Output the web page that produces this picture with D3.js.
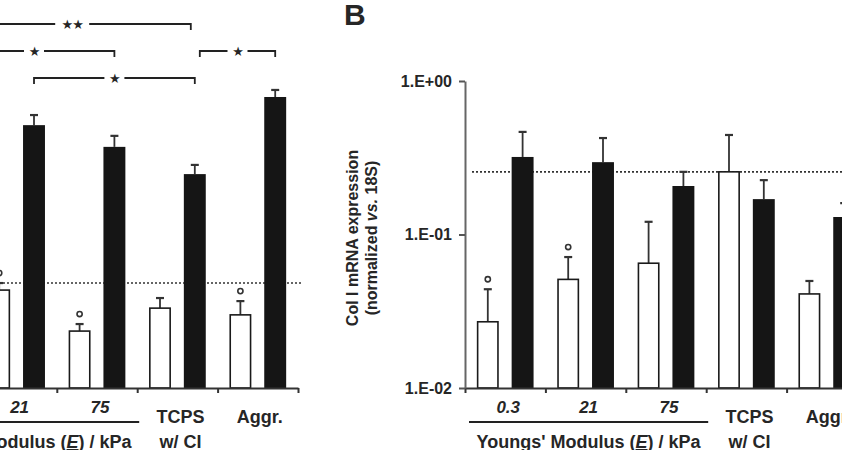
<!DOCTYPE html>
<html>
<head>
<meta charset="utf-8">
<script src="https://cdn.jsdelivr.net/npm/d3@7"></script>
<style>
body { margin: 0; background: #fff; }
svg text { font-family: "Liberation Sans", Arial, sans-serif; font-weight: bold; fill: #262626; }
</style>
</head>
<body>
<svg id="chart" width="842" height="450"></svg>
<script>

// groups along the x axis (first three are the gel stiffness values)
var groups = ["0.3", "21", "75", "TCPS", "Aggr."];
var moduli = ["0.3", "21", "75"];

// panel A - y axis is cropped off the figure, values in relative units
var aWhite    = [null, 0.320, 0.186, 0.261, 0.239];
var aWhiteTop = [null, 0.343, 0.209, 0.294, 0.284];
var aBlack    = [null, 0.859, 0.788, 0.699, 0.951];
var aBlackTop = [null, 0.892, 0.824, 0.729, 0.974];
var aMarks    = [false, true, true, false, true];
var aRef = 0.343;

// significance brackets in panel A (between black bars)
var aBrackets = [
    {from: "0.3", to: "TCPS", level: 0, label: "★★"},
    {from: "0.3", to: "75", level: 1, label: "★"},
    {from: "TCPS", to: "Aggr.", level: 1, label: "★"},
    {from: "21", to: "TCPS", level: 2, label: "★"}
];

// panel B - Col I mRNA expression (normalized vs. 18S), log axis
var bWhite    = [0.027, 0.051, 0.065, 0.256, 0.041];
var bWhiteTop = [0.044, 0.0713, 0.121, 0.445, 0.0498];
var bBlack    = [0.320, 0.296, 0.207, 0.170, 0.130];
var bBlackTop = [0.466, 0.425, 0.256, 0.226, 0.160];
var bMarks    = [true, true, false, false, false];
var bRef = 0.256;
var bTicks = [1, 0.1, 0.01];

var svg = d3.select("#chart");
var baseY = 388, topY = 81;

// Panel A
var yA = d3.scaleLinear().domain([0, 1]).range([baseY, topY + 1]);
var panelA = drawPanel({
    x0: -104, x1: 298, y: yA,
    white: aWhite, whiteTop: aWhiteTop, black: aBlack, blackTop: aBlackTop,
    marks: aMarks, ref: aRef, refEnd: 4
});

// brackets
var levelY = d3.scaleLinear().domain([0, 2]).range([24, 78]);
var bx = function(g) { return panelA.x(g) + panelA.inner("black") + panelA.inner.bandwidth() / 2; };
aBrackets.forEach(function(b, i) {
    var xa = bx(b.from), xb = bx(b.to), yy = levelY(b.level);
    if (b.from == "TCPS") xa += 5;
    if (b.to == "TCPS" && b.level == 0) xb -= 4;
    var mid = (xa + xb) / 2;
    var gap = b.label.length > 1 ? 17 : 10;
    var path = d3.path();
    path.moveTo(xa, yy + 6); path.lineTo(xa, yy); path.lineTo(mid - gap, yy);
    path.moveTo(mid + gap, yy); path.lineTo(xb, yy); path.lineTo(xb, yy + 6);
    svg.append("path").attr("d", path.toString())
        .attr("fill", "none").attr("stroke", "#222").attr("stroke-width", 1.8);
    svg.append("text").attr("x", mid).attr("y", yy + 5)
        .attr("text-anchor", "middle").style("font-size", "13px")
        .style("font-family", "DejaVu Sans").style("letter-spacing", "-1px")
        .text(b.label);
});

// Panel B
var yB = d3.scaleLog().domain([0.01, 1]).range([baseY, topY]);
var panelB = drawPanel({
    x0: 465, x1: 867, y: yB,
    white: bWhite, whiteTop: bWhiteTop, black: bBlack, blackTop: bBlackTop,
    marks: bMarks, ref: bRef, refEnd: 0
});

var fmtE = function(d) {
    var e = Math.round(Math.log10(d));
    return "1.E" + (e < 0 ? "-" : "+") + d3.format("02d")(Math.abs(e));
};
var yAxis = svg.append("g").attr("transform", "translate(465,0)")
    .call(d3.axisLeft(yB).tickValues(bTicks).tickFormat(fmtE).tickSize(6).tickSizeOuter(0).tickPadding(7));
yAxis.select(".domain").attr("stroke", "#666").attr("stroke-width", 2);
yAxis.selectAll(".tick line").attr("stroke", "#555").attr("stroke-width", 2);
yAxis.selectAll(".tick text").style("font-size", "16px").style("font-family", null).attr("fill", "#2a2a2a");

// panel letter + y title
svg.append("text").attr("x", 344).attr("y", 25).style("font-size", "30px").attr("fill", "#111").text("B");

svg.append("text").attr("transform", "translate(358,238) rotate(-90)")
    .attr("text-anchor", "middle").style("font-size", "16px")
    .text("Col I mRNA expression");
var yt = svg.append("text").attr("transform", "translate(377,238) rotate(-90)")
    .attr("text-anchor", "middle").style("font-size", "16px");
yt.append("tspan").text("(normalized ");
yt.append("tspan").style("font-style", "italic").text("vs.");
yt.append("tspan").text(" 18S)");


function drawPanel(c) {

    var x = d3.scaleBand().domain(groups).range([c.x0, c.x1]);
    var inner = d3.scaleBand().domain(["white", "black"]).range([0, x.bandwidth()])
        .paddingInner(0.37).paddingOuter(0.34);
    var y = c.y;
    var y0 = y(y.domain()[0]);

    var rows = [];
    groups.forEach(function(g, i) {
        if (c.white[i] != null) rows.push({g: g, s: "white", v: c.white[i], top: c.whiteTop[i], mark: c.marks[i]});
        if (c.black[i] != null) rows.push({g: g, s: "black", v: c.black[i], top: c.blackTop[i], mark: false});
    });
    var cx = function(d) { return x(d.g) + inner(d.s) + inner.bandwidth() / 2; };

    // reference dotted line (behind bars)
    svg.append("line")
        .attr("x1", c.x0 + 7).attr("x2", c.x1 + c.refEnd)
        .attr("y1", y(c.ref)).attr("y2", y(c.ref))
        .attr("stroke", "#333").attr("stroke-width", 1.6).attr("stroke-dasharray", "2,2");

    // error bars
    var err = svg.append("g").selectAll("g").data(rows).enter().append("g");
    err.append("line")
        .attr("x1", cx).attr("x2", cx)
        .attr("y1", function(d) { return y(d.v); }).attr("y2", function(d) { return y(d.top); })
        .attr("stroke", "#333").attr("stroke-width", 1.8);
    err.append("line")
        .attr("x1", function(d) { return cx(d) - 4; }).attr("x2", function(d) { return cx(d) + 4; })
        .attr("y1", function(d) { return y(d.top); }).attr("y2", function(d) { return y(d.top); })
        .attr("stroke", "#333").attr("stroke-width", 2.2);

    // bars
    svg.append("g").selectAll("rect").data(rows).enter().append("rect")
        .attr("x", function(d) { return x(d.g) + inner(d.s) + (d.s == "white" ? 0.8 : 0); })
        .attr("width", function(d) { return inner.bandwidth() - (d.s == "white" ? 1.6 : 0); })
        .attr("y", function(d) { return y(d.v); })
        .attr("height", function(d) { return y0 - y(d.v); })
        .attr("fill", function(d) { return d.s == "white" ? "#fff" : "#151515"; })
        .attr("stroke", function(d) { return d.s == "white" ? "#1a1a1a" : "none"; })
        .attr("stroke-width", 1.6);

    // circle markers over white bars
    svg.append("g").selectAll("circle").data(rows.filter(function(d) { return d.mark; }))
        .enter().append("circle")
        .attr("cx", cx).attr("cy", function(d) { return y(d.top) - 10; })
        .attr("r", 2.6).attr("fill", "#fff").attr("stroke", "#333").attr("stroke-width", 1.6);

    // x axis with ticks at group boundaries
    var xb = d3.scaleLinear().domain([0, groups.length]).range([c.x0, c.x1]);
    var xAxis = svg.append("g").attr("transform", "translate(0," + y0 + ")")
        .call(d3.axisBottom(xb).tickValues(d3.range(groups.length + 1)).tickSize(5).tickSizeOuter(0).tickFormat(""));
    xAxis.select(".domain").attr("stroke", "#333").attr("stroke-width", 2);
    xAxis.selectAll(".tick line").attr("stroke", "#333").attr("stroke-width", 2);

    // group labels
    moduli.forEach(function(g) {
        svg.append("text").attr("x", x(g) + x.bandwidth() / 2 + 3).attr("y", 413)
            .attr("text-anchor", "middle").style("font-size", "17px").style("font-style", "italic")
            .text(g);
    });
    svg.append("text").attr("x", x("TCPS") + x.bandwidth() / 2 + 3).attr("y", 423)
        .attr("text-anchor", "middle").style("font-size", "18px").text("TCPS");
    svg.append("text").attr("x", x("TCPS") + x.bandwidth() / 2 + 3).attr("y", 448)
        .attr("text-anchor", "middle").style("font-size", "18px").text("w/ CI");
    svg.append("text").attr("x", x("Aggr.") + x.bandwidth() / 2 + 2).attr("y", 423)
        .attr("text-anchor", "middle").style("font-size", "18px").text("Aggr.");

    var u0 = x(moduli[0]) + 4, u1 = x(moduli[2]) + x.bandwidth() + 2;
    svg.append("line").attr("x1", u0).attr("x2", u1).attr("y1", 422).attr("y2", 422)
        .attr("stroke", "#222").attr("stroke-width", 2);
    var t = svg.append("text").attr("x", (u0 + u1) / 2).attr("y", 448)
        .attr("text-anchor", "middle").style("font-size", "18px");
    t.append("tspan").text("Youngs' Modulus (");
    t.append("tspan").style("font-style", "italic").style("text-decoration", "underline").text("E");
    t.append("tspan").text(") / kPa");

    return {x: x, inner: inner, y: y};
}

</script>
</body>
</html>
